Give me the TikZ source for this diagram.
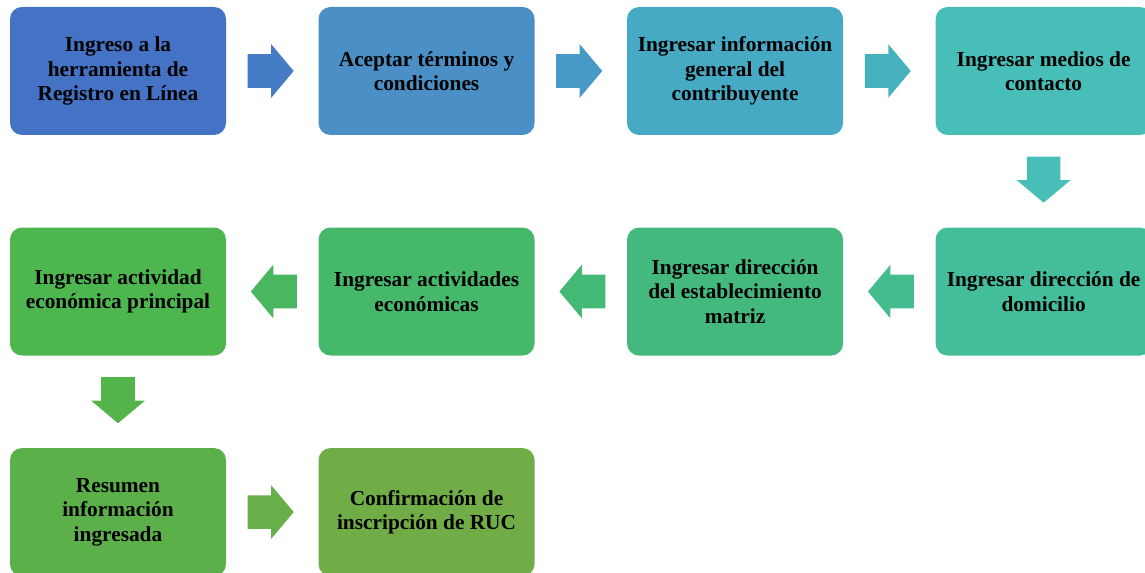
\documentclass[tikz,border=0pt]{standalone}
\usepackage{fontspec}
\setmainfont{Liberation Serif}
\usetikzlibrary{positioning}
\usetikzlibrary{shapes.arrows}
\usetikzlibrary{calc}
\definecolor{c1}{HTML}{4472C4}
\definecolor{c2}{HTML}{4A8FC6}
\definecolor{c3}{HTML}{46AAC5}
\definecolor{c4}{HTML}{47BFB8}
\definecolor{c5}{HTML}{44BE9A}
\definecolor{c6}{HTML}{44B97E}
\definecolor{c7}{HTML}{45B86A}
\definecolor{c8}{HTML}{4DB64E}
\definecolor{c9}{HTML}{5CB04A}
\definecolor{c10}{HTML}{70AD47}
\tikzset{paso/.style={rectangle,rounded corners=9pt,minimum width=162pt,minimum height=96pt,text width=156pt,align=flush center,inner sep=0pt,font=\fontsize{16}{18.4}\selectfont\bfseries},
flecha/.style={single arrow,single arrow head extend=7.5pt,single arrow tip angle=100,minimum height=34.5pt,inner xsep=0pt,inner ysep=12.4pt,anchor=tail},}

\begin{document}
\begin{tikzpicture}[x=0.75pt,y=0.75pt,node distance=69pt]
    \clip (0,0) rectangle (1145,-573);
    \node[paso,fill=c1] (1) at (118,-71) {Ingreso a la\\herramienta de\\Registro en Línea};
    \node[paso,fill=c2] (2) [right = of 1] {Aceptar términos y\\condiciones};
    \node[paso,fill=c3] (3) [right = of 2] {Ingresar información\\general del\\contribuyente};
    \node[paso,fill=c4] (4) [right = of 3] {Ingresar medios de\\contacto};
    \node[paso,fill=c5] (5) [below = of 4] {Ingresar dirección de\\domicilio};
    \node[paso,fill=c6] (6) [left = of 5] {Ingresar dirección\\del establecimiento\\matriz};
    \node[paso,fill=c7] (7) [left = of 6] {Ingresar actividades\\económicas};
    \node[paso,fill=c8] (8) [left = of 7] {Ingresar actividad\\económica principal};
    \node[paso,fill=c9] (9) [below = of 8] {Resumen\\información\\ingresada};
    \node[paso,fill=c10] (10) [right = of 9] {Confirmación de\\inscripción de RUC};

    % flechas entre pasos
    \node[flecha,fill=c1!70!c2] (f1) at ($(1.east)!0.23!(2.west)$) {};
    \node[flecha,fill=c2!60!c3] (f2) at ($(2.east)!0.23!(3.west)$) {};
    \node[flecha,fill=c3!60!c4] (f3) at ($(3.east)!0.23!(4.west)$) {};
    \node[flecha,fill=c4,rotate=-90] (f4) at ($(4.south)!0.23!(5.north)$) {};
    \node[flecha,fill=c5!60!c6,rotate=180] (f5) at ($(5.west)!0.23!(6.east)$) {};
    \node[flecha,fill=c6!60!c7,rotate=180] (f6) at ($(6.west)!0.23!(7.east)$) {};
    \node[flecha,fill=c7!60!c8,rotate=180] (f7) at ($(7.west)!0.23!(8.east)$) {};
    \node[flecha,fill=c8!60!c9,rotate=-90] (f8) at ($(8.south)!0.23!(9.north)$) {};
    \node[flecha,fill=c9!50!c10] (f9) at ($(9.east)!0.23!(10.west)$) {};
\end{tikzpicture}
\end{document}
